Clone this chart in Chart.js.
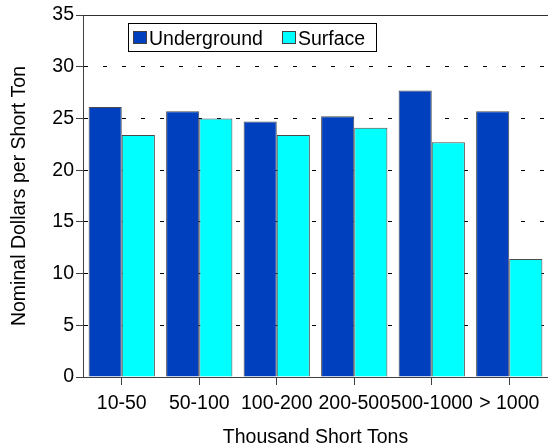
<!DOCTYPE html>
<html><head><meta charset="utf-8">
<script src="https://cdn.jsdelivr.net/npm/chart.js@4"></script>
<style>html,body{margin:0;padding:0;background:#fff}#wrap{width:548px;height:447px;position:relative}</style>
</head><body><div id="wrap"><canvas id="c"></canvas></div>
<script>
const categories = ['10-50', '50-100', '100-200', '200-500', '500-1000', '> 1000'];
const underground = [26.1, 25.7, 24.7, 25.2, 27.7, 25.7];
const surface = [23.4, 25.0, 23.4, 24.1, 22.7, 11.4];
const seriesNames = ['Underground', 'Surface'];
const yTicks = [0, 5, 10, 15, 20, 25, 30, 35];
const yTitle = 'Nominal Dollars per Short Ton';
const xTitle = 'Thousand Short Tons';

const FONT = "'Liberation Sans', Arial, Helvetica, sans-serif";
const FS = 19.5;

const legendBox = {
  id: 'legendBox',
  afterDraw(chart) {
    const ctx = chart.ctx, a = chart.chartArea;
    const x = Math.round(a.left + 45) + 0.5, y = Math.round(a.top + 8) + 0.5;
    ctx.save();
    ctx.font = FS + 'px ' + FONT;
    const items = chart.data.datasets.map(d => ({ text: d.label, color: d.backgroundColor, w: ctx.measureText(d.label).width }));
    let cx = x + 4;
    const pos = [];
    items.forEach((it, i) => {
      pos.push(cx);
      cx += 15.5 + it.w + (i < items.length - 1 ? 20.5 : 11.5);
    });
    const w = Math.round(cx - x), h = 28;
    ctx.fillStyle = '#fff';
    ctx.fillRect(x, y, w, h);
    ctx.strokeStyle = '#000';
    ctx.lineWidth = 1;
    ctx.strokeRect(x, y, w, h);
    items.forEach((it, i) => {
      const sx = Math.round(pos[i]) + 0.5;
      ctx.fillStyle = it.color;
      ctx.fillRect(sx, y + 8, 13, 12);
      ctx.strokeStyle = '#404040';
      ctx.strokeRect(sx, y + 8, 13, 12);
      ctx.fillStyle = '#000';
      ctx.textBaseline = 'alphabetic';
      ctx.textAlign = 'left';
      ctx.fillText(it.text, sx + 15.5, y + 21);
    });
    ctx.restore();
  }
};

const topLine = {
  id: 'topLine',
  afterDraw(chart) {
    const ctx = chart.ctx, a = chart.chartArea;
    ctx.save();
    ctx.strokeStyle = '#303030';
    ctx.lineWidth = 1;
    const yy = Math.round(a.top) + 0.5;
    ctx.beginPath();
    ctx.moveTo(a.left, yy);
    ctx.lineTo(a.right, yy);
    ctx.stroke();
    ctx.restore();
  }
};

new Chart(document.getElementById('c'), {
  type: 'bar',
  data: {
    labels: categories,
    datasets: [
      { label: seriesNames[0], data: underground, backgroundColor: '#0040BE', borderColor: '#4a4a4a', borderWidth: 1 },
      { label: seriesNames[1], data: surface, backgroundColor: '#00FFFF', borderColor: '#4a4a4a', borderWidth: 1 }
    ]
  },
  options: {
    responsive: true,
    maintainAspectRatio: false,
    animation: false,
    categoryPercentage: 0.855,
    barPercentage: 1.0,
    layout: { padding: { left: 8, top: 15, right: 0, bottom: 0 } },
    plugins: { legend: { display: false }, tooltip: { enabled: false } },
    scales: {
      x: {
        afterFit(s) { s.height = 70; },
        grid: { display: true, drawOnChartArea: false, drawTicks: true, tickLength: 8, offset: false, tickColor: '#404040' },
        border: { display: true, color: '#404040', width: 1 },
        ticks: { color: '#000', font: { family: FONT, size: FS }, padding: 6.5, maxRotation: 0, autoSkip: false },
        title: { display: true, text: xTitle, color: '#000', font: { family: FONT, size: FS }, padding: { top: 0, bottom: -2 } }
      },
      y: {
        min: 0, max: 35,
        afterFit(s) { s.width = 75; },
        afterBuildTicks(s) { s.ticks = yTicks.map(v => ({ value: v })); },
        grid: { display: true, color: '#000', lineWidth: 1, drawTicks: true, tickLength: 7, tickColor: '#404040', tickBorderDash: [] },
        border: { display: true, color: '#404040', width: 1, dash: [4, 15] },
        ticks: { color: '#000', font: { family: FONT, size: FS }, padding: 2 },
        title: { display: true, text: yTitle, color: '#000', font: { family: FONT, size: FS }, padding: 0 }
      }
    }
  },
  plugins: [topLine, legendBox]
});
</script>
</body></html>
